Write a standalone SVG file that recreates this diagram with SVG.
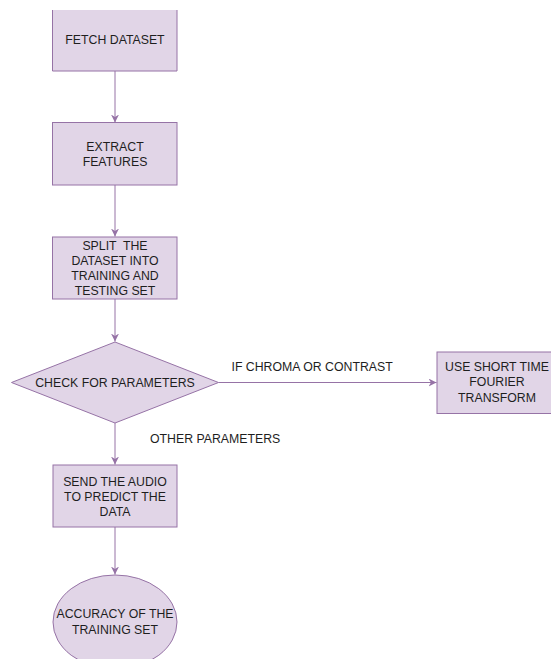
<svg xmlns="http://www.w3.org/2000/svg" width="551" height="659" viewBox="0 0 551 659">
  <defs>
    <style>
      .node { fill: #e1d5e7; stroke: #9673a6; stroke-width: 1; }
      .edge { fill: none; stroke: #9673a6; stroke-width: 1; }
      .lbl { font-family: "Liberation Sans", Arial, Helvetica, sans-serif; font-size: 12.3px; fill: #1e1e1e; text-anchor: middle; dominant-baseline: central; white-space: pre; }
      .elbl { font-family: "Liberation Sans", Arial, Helvetica, sans-serif; font-size: 12.3px; fill: #1e1e1e; dominant-baseline: central; }
    </style>
    <marker id="arrow" viewBox="0 0 10 10" refX="10" refY="5" markerWidth="8" markerHeight="8" markerUnits="userSpaceOnUse" orient="auto">
      <path d="M0,0 L10,5 L0,10 L3,5 Z" fill="#9673a6"/>
    </marker>
  </defs>
  <rect width="551" height="659" fill="#ffffff"/>

  <g id="connectors">
    <line class="edge" x1="115" y1="71" x2="115" y2="122.5" marker-end="url(#arrow)"/>
    <line class="edge" x1="115" y1="185" x2="115" y2="236.5" marker-end="url(#arrow)"/>
    <line class="edge" x1="115" y1="299" x2="115" y2="341.5" marker-end="url(#arrow)"/>
    <line class="edge" x1="218.5" y1="382.5" x2="436.5" y2="382.5" marker-end="url(#arrow)"/>
    <line class="edge" x1="115" y1="423" x2="115" y2="464.5" marker-end="url(#arrow)"/>
    <line class="edge" x1="115" y1="527" x2="115" y2="574.5" marker-end="url(#arrow)"/>
    <text class="elbl" x="231.5" y="366.5">IF CHROMA OR CONTRAST</text>
    <text class="elbl" x="150" y="439">OTHER PARAMETERS</text>
  </g>

  <g id="fetch">
    <rect x="52.5" y="10" width="124.5" height="61" fill="#e1d5e7"/>
    <path class="edge" d="M52.5,10 V71 H177 V10"/>
    <text class="lbl" x="115" y="40">FETCH DATASET</text>
  </g>

  <g id="extract">
    <rect class="node" x="52.5" y="122.5" width="124.5" height="62.5"/>
    <text class="lbl" x="115" y="146.5">EXTRACT</text>
    <text class="lbl" x="115" y="161.5">FEATURES</text>
  </g>

  <g id="split">
    <rect class="node" x="52.5" y="237" width="124.5" height="62"/>
    <text class="lbl" x="115" y="245.5" xml:space="preserve">SPLIT  THE</text>
    <text class="lbl" x="115" y="260.5">DATASET INTO</text>
    <text class="lbl" x="115" y="275.5">TRAINING AND</text>
    <text class="lbl" x="115" y="290.5">TESTING SET</text>
  </g>

  <g id="check">
    <polygon class="node" points="115,342 218.5,382.5 115,423 11.5,382.5"/>
    <text class="lbl" x="115" y="383">CHECK FOR PARAMETERS</text>
  </g>

  <g id="stft">
    <rect class="node" x="437" y="352" width="120" height="61.5"/>
    <text class="lbl" x="497" y="367">USE SHORT TIME</text>
    <text class="lbl" x="497" y="382">FOURIER</text>
    <text class="lbl" x="497" y="397.5">TRANSFORM</text>
  </g>

  <g id="send">
    <rect class="node" x="53" y="465" width="124" height="62"/>
    <text class="lbl" x="115" y="481.5">SEND THE AUDIO</text>
    <text class="lbl" x="115" y="496.5">TO PREDICT THE</text>
    <text class="lbl" x="115" y="511.5">DATA</text>
  </g>

  <g id="accuracy">
    <ellipse class="node" cx="115" cy="622" rx="62" ry="47"/>
    <text class="lbl" x="115" y="614">ACCURACY OF THE</text>
    <text class="lbl" x="115" y="630">TRAINING SET</text>
  </g>
</svg>
